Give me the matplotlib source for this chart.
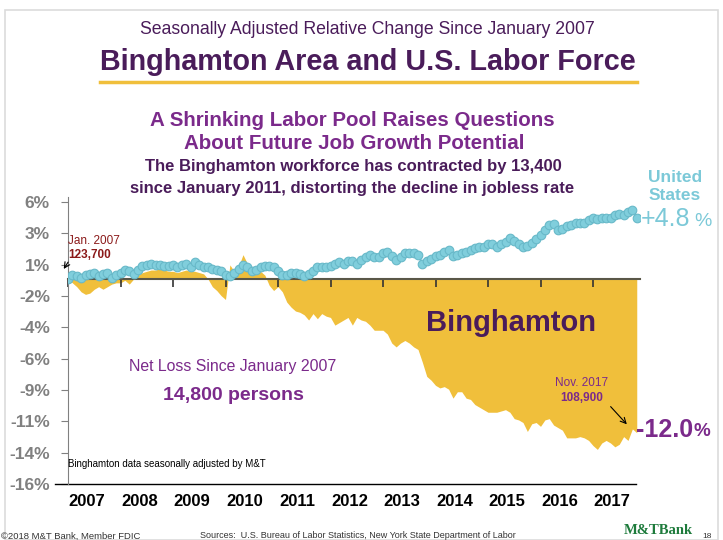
import numpy as np
import matplotlib
matplotlib.use("Agg")
import matplotlib.pyplot as plt
from matplotlib.lines import Line2D
from matplotlib.patches import Rectangle

plt.rcParams['font.family'] = ['Liberation Sans', 'DejaVu Sans']

# monthly, Jan 2007 .. Nov 2017, % change since Jan 2007
binghamton = [
    0.0, -0.3, -0.6, -1.0, -1.2, -1.1, -0.8, -0.6, -0.8, -0.6, -0.4, -0.3,
    -0.3, -0.1, -0.4, 0.0, 0.3, 0.5, 0.6, 0.7, 0.7, 0.8, 0.7, 0.6,
    0.6, 0.5, 0.6, 0.7, 0.6, 0.6, 0.5, 0.4, 0.0, -0.6, -0.9, -1.3,
    -1.6, 1.1, 0.6, 1.0, 1.9, 1.2, 0.8, 0.6, 0.6, 0.3, -0.5, -0.9,
    -0.6, -1.0, -1.8, -2.2, -2.5, -2.6, -2.8, -3.2, -2.7, -3.1, -2.7, -2.9,
    -3.0, -3.6, -3.4, -3.2, -3.0, -3.6, -3.0, -3.2, -3.3, -3.6, -4.0, -4.0,
    -4.0, -4.3, -5.0, -5.3, -5.0, -4.8, -5.0, -5.3, -5.5, -6.5, -7.6, -7.9,
    -8.3, -8.5, -8.4, -8.6, -9.3, -8.8, -8.8, -9.3, -9.4, -9.8, -10.0, -10.2,
    -10.4, -10.4, -10.4, -10.3, -10.2, -10.4, -10.9, -11.0, -11.2, -11.9, -11.3, -11.2,
    -11.5, -11.0, -10.9, -11.4, -11.6, -11.8, -12.4, -12.4, -12.4, -12.3, -12.4, -12.6,
    -13.0, -13.3, -12.8, -12.6, -12.8, -13.1, -12.9, -12.3, -12.6, -11.7, -12.0,
]
us = [
    0.0, 0.3, 0.2, 0.1, 0.3, 0.4, 0.5, 0.2, 0.4, 0.5, 0.1, 0.3,
    0.5, 0.7, 0.6, 0.4, 0.7, 1.0, 1.1, 1.2, 1.1, 1.1, 1.0, 1.0,
    1.1, 0.9, 1.1, 1.2, 0.9, 1.3, 1.1, 0.9, 0.9, 0.8, 0.7, 0.6,
    0.3, 0.2, 0.5, 0.8, 1.1, 0.9, 0.6, 0.7, 0.9, 1.0, 1.0, 0.9,
    0.6, 0.3, 0.3, 0.5, 0.5, 0.4, 0.2, 0.4, 0.6, 0.9, 0.9, 0.9,
    1.0, 1.2, 1.3, 1.2, 1.4, 1.4, 1.2, 1.5, 1.7, 1.9, 1.7, 1.7,
    2.0, 2.1, 1.8, 1.5, 1.7, 2.0, 2.0, 2.0, 1.9, 1.2, 1.4, 1.6,
    1.8, 1.9, 2.1, 2.3, 1.8, 1.9, 2.0, 2.1, 2.3, 2.4, 2.5, 2.5,
    2.7, 2.7, 2.5, 2.7, 2.9, 3.2, 3.0, 2.7, 2.5, 2.6, 2.8, 3.1,
    3.4, 3.8, 4.2, 4.3, 3.8, 3.9, 4.1, 4.2, 4.4, 4.4, 4.4, 4.6,
    4.8, 4.7, 4.8, 4.8, 4.8, 5.0, 5.1, 5.0, 5.2, 5.4, 4.8,
]
years = list(range(2007, 2018))
ytick_labels = ['6%', '3%', '1%', '-2%', '-4%', '-6%', '-9%', '-11%', '-14%', '-16%']

t = 2007 + np.arange(len(binghamton)) / 12.0

YELLOW = '#F0BF3B'
BLUE = '#80CEDC'
BLUE_TXT = '#7CC9D8'
DPURPLE = '#4A1C5A'
PURPLE = '#7B2A8B'
DRED = '#8B1A1A'
GRAY = '#808080'

fig = plt.figure(figsize=(7.23, 5.4), dpi=100)
W, H = 723.0, 540.0


def ftext(x, y, s, **kw):
    fig.text(x / W, 1 - y / H, s, **kw)


# slide frame
fig.add_artist(Rectangle((5 / W, 0), 713 / W, 1 - 10 / H, transform=fig.transFigure,
                         fill=False, edgecolor='#dcdcdc', lw=1.2))

ax = fig.add_axes([68 / W, 1 - 484 / H, 572 / W, 287 / H])
ax.set_xlim(2007, 2007 + 572 / 52.5)
ax.set_ylim(-16, 6.4)

ax.fill_between(t, 0, binghamton, color=YELLOW, lw=0, zorder=1)
ax.plot(t, us, color=BLUE, lw=1.5, zorder=3)
ax.plot(t, us, 'o', ms=6.2, mfc=BLUE, mec='#68B9C9', mew=0.8, zorder=3)

for s in ['top', 'right']:
    ax.spines[s].set_visible(False)
ax.spines['left'].set_color(GRAY)
ax.spines['left'].set_linewidth(0.8)
ax.spines['bottom'].set_position(('data', 0))
ax.spines['bottom'].set_color('#5a5748')
ax.spines['bottom'].set_linewidth(1.5)
ax.spines['bottom'].set_zorder(2)

ax.set_xticks(years)
ax.tick_params(axis='x', direction='out', length=6, width=1.2, color='#333333',
               labelbottom=False)
ax.set_yticks(np.linspace(6, -16, 10))
ax.set_yticklabels(ytick_labels)
ax.tick_params(axis='y', direction='out', length=5, width=0.8, color=GRAY,
               labelcolor=GRAY, labelsize=12.5, pad=8)
for lb in ax.get_yticklabels():
    lb.set_fontweight('bold')

# bottom rule
ax.plot([-0.023, 0.993], [0, 0], transform=ax.transAxes, color='black', lw=1,
        clip_on=False)

for y in years:
    ax.text(y + 0.36, -0.06, str(y), transform=ax.get_xaxis_transform(),
            ha='center', va='center', fontsize=12, fontweight='bold',
            color='black')

# annotations in the plot
ax.text(2007.0, 3.0, 'Jan. 2007', color=DRED, fontsize=8.5, va='center', ha='left')
ax.text(2007.0, 1.9, '123,700', color=DRED, fontsize=8.5, fontweight='bold',
        va='center', ha='left')
ax.annotate('', xy=(2006.89, 0.6), xytext=(2007.03, 1.5),
            arrowprops=dict(arrowstyle='->', color='black', lw=0.8), annotation_clip=False)

ax.text(2016.79, -8.1, 'Nov. 2017', color=PURPLE, fontsize=8.5, ha='center', va='center')
ax.text(2016.79, -9.3, '108,900', color=PURPLE, fontsize=8.5, fontweight='bold',
        ha='center', va='center')
ax.annotate('', xy=(2017.68, -11.5), xytext=(2017.30, -9.8),
            arrowprops=dict(arrowstyle='->', color='black', lw=0.8))

ftext(511, 323, 'Binghamton', color=DPURPLE, fontsize=21, fontweight='bold',
      ha='center', va='center')
ftext(233, 367, 'Net Loss Since January 2007', color=PURPLE, fontsize=11.4,
      ha='center', va='center')
ftext(233, 395, '14,800 persons', color=PURPLE, fontsize=14, fontweight='bold',
      ha='center', va='center')
ftext(68, 464, 'Binghamton data seasonally adjusted by M&T', color='black',
      fontsize=7, ha='left', va='center')

# end labels
ftext(675, 178, 'United', color=BLUE_TXT, fontsize=12.5, fontweight='bold',
      ha='center', va='center')
ftext(675, 195, 'States', color=BLUE_TXT, fontsize=12.5, fontweight='bold',
      ha='center', va='center')
ftext(641, 219, '+4.8', color=BLUE_TXT, fontsize=18, ha='left', va='center')
ftext(694, 221, '%', color=BLUE_TXT, fontsize=14, ha='left', va='center')
ftext(636, 430, '-12.0', color=PURPLE, fontsize=18, fontweight='bold',
      ha='left', va='center')
ftext(694, 432, '%', color=PURPLE, fontsize=13.5, fontweight='bold', ha='left', va='center')

# headings
ftext(367, 30, 'Seasonally Adjusted Relative Change Since January 2007',
      color=DPURPLE, fontsize=12.7, ha='center', va='center')
ftext(368, 62, 'Binghamton Area and U.S. Labor Force', color=DPURPLE,
      fontsize=20.7, fontweight='bold', ha='center', va='center')
fig.add_artist(Line2D([100 / W, 637 / W], [1 - 82 / H, 1 - 82 / H],
                      color=YELLOW, lw=2.5, transform=fig.transFigure))
ftext(352, 120, 'A Shrinking Labor Pool Raises Questions', color=PURPLE,
      fontsize=14.8, fontweight='bold', ha='center', va='center')
ftext(354, 144, 'About Future Job Growth Potential', color=PURPLE,
      fontsize=14.8, fontweight='bold', ha='center', va='center')
ftext(353, 167, 'The Binghamton workforce has contracted by 13,400',
      color=DPURPLE, fontsize=12, fontweight='bold', ha='center', va='center')
ftext(352, 188, 'since January 2011, distorting the decline in jobless rate',
      color=DPURPLE, fontsize=12, fontweight='bold', ha='center', va='center')

# footer
ftext(1, 536, '\u00a92018 M&T Bank, Member FDIC', fontsize=6.8,
      color='#333333', ha='left', va='center')
ftext(200, 536, 'Sources:  U.S. Bureau of Labor Statistics, New York State Department of Labor',
      fontsize=6.5, color='#333333', ha='left', va='center')
ftext(658, 530, 'M&TBank', fontsize=10.5, fontweight='bold', family=['Liberation Serif'],
      color='#1E7B3C', ha='center', va='center')
ftext(707, 536, '18', fontsize=6, color='#333333', ha='center', va='center')

fig.savefig('out.png', dpi=100)
